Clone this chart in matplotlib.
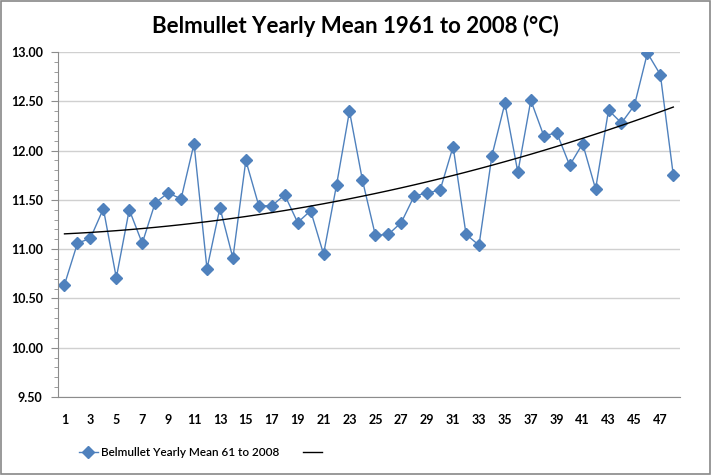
import numpy as np
import matplotlib.pyplot as plt
from matplotlib.ticker import MultipleLocator, FormatStrFormatter

plt.rcParams["font.family"] = ["Lato", "DejaVu Sans"]

years = np.arange(1, 49)
temps = [10.64, 11.06, 11.11, 11.41, 10.71, 11.40, 11.06, 11.47, 11.57, 11.51,
         12.07, 10.80, 11.42, 10.91, 11.90, 11.44, 11.44, 11.55, 11.27, 11.39,
         10.95, 11.65, 12.40, 11.70, 11.14, 11.15, 11.27, 11.54, 11.57, 11.60,
         12.04, 11.15, 11.04, 11.95, 12.48, 11.78, 12.51, 12.15, 12.18, 11.85,
         12.07, 11.61, 12.41, 12.28, 12.46, 12.99, 12.77, 11.75]
xtick_labels = [str(i) for i in range(1, 48, 2)]

blue = "#4F81BD"
grey = "#8C8C8C"

fig = plt.figure(figsize=(7.11, 4.75), dpi=100)
ax = fig.add_axes([0.0816, 0.1642, 0.8745, 0.7263])

ax.plot(years, temps, color=blue, lw=1, marker="D", ms=6.5,
        mec=blue, mfc=blue, label="Belmullet Yearly Mean 61 to 2008")

# polynomial (order 2) trendline
coef = np.polyfit(years, temps, 2)
ax.plot(years, np.polyval(coef, years), color="black", lw=1, label=" ")

ax.set_xlim(0.5, 48.5)
ax.set_ylim(9.5, 13.0)
ax.yaxis.set_major_locator(MultipleLocator(0.5))
ax.yaxis.set_minor_locator(MultipleLocator(0.1))
ax.yaxis.set_major_formatter(FormatStrFormatter("%.2f"))
ax.set_xticks(range(1, 48, 2))
ax.set_xticklabels(xtick_labels)
ax.grid(axis="y", color="#D0D0D0", lw=1)
ax.set_axisbelow(True)

for s in ["top", "right"]:
    ax.spines[s].set_visible(False)
for s in ["left", "bottom"]:
    ax.spines[s].set_color(grey)
ax.tick_params(axis="x", length=0, pad=12, labelsize=9)
ax.tick_params(axis="y", which="major", length=5, color=grey, labelsize=9, pad=6)
ax.tick_params(axis="y", which="minor", length=3, color=grey)
for lab in ax.get_xticklabels() + ax.get_yticklabels():
    lab.set_fontweight("bold")

fig.suptitle("Belmullet Yearly Mean 1961 to 2008 (°C)", x=0.5, y=0.968,
             fontsize=16, fontweight="bold")

leg = fig.legend(loc="center left", bbox_to_anchor=(0.104, 0.048), ncol=2,
                 frameon=False, borderaxespad=0,
                 prop={"size": 8.5, "weight": "semibold"}, handlelength=1.6,
                 handletextpad=0.3, columnspacing=2.0)

fig.patches.append(plt.Rectangle((0.001, 0.002), 0.997, 0.996, transform=fig.transFigure,
                                 fill=False, ec="#888888", lw=1.2))

plt.savefig("out.png", dpi=100)
